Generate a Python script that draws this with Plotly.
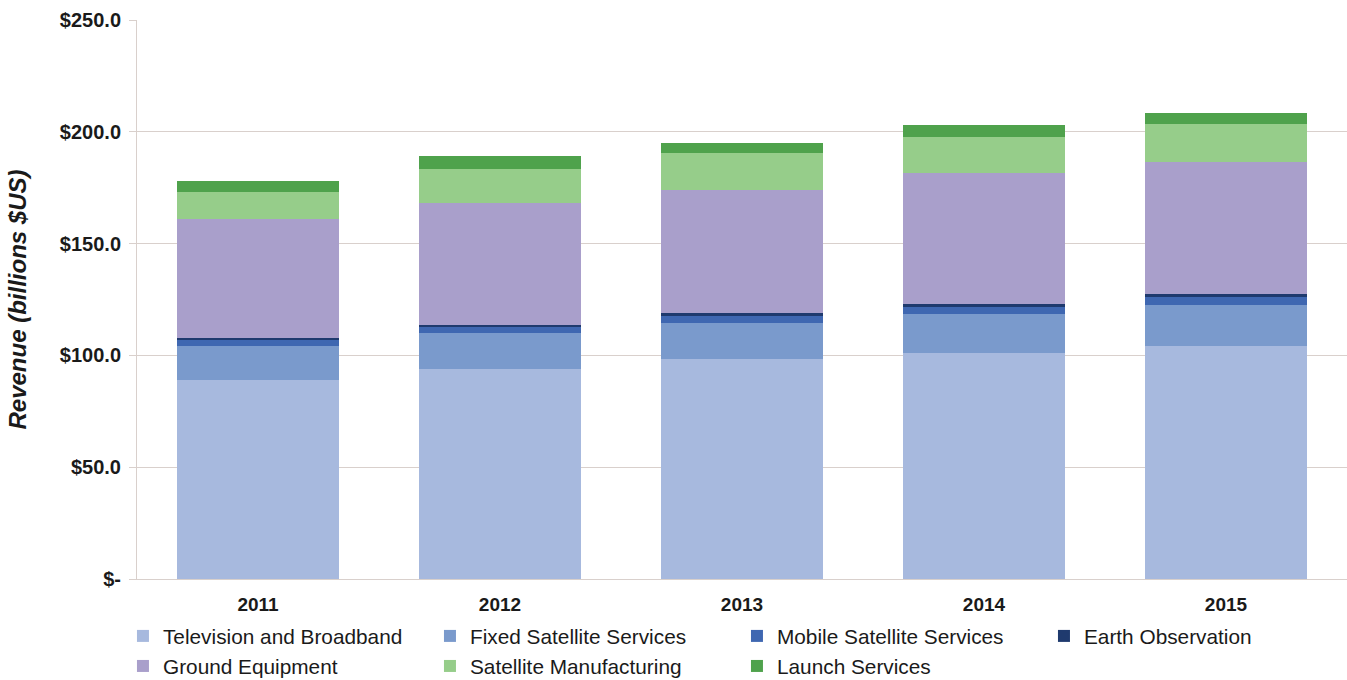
import plotly.graph_objects as go

years = ["2011", "2012", "2013", "2014", "2015"]

tv_broadband = [89.0, 93.8, 98.3, 101.2, 104.3]
fixed_sat = [15.2, 16.1, 16.3, 17.3, 18.2]
mobile_sat = [2.7, 2.7, 3.0, 3.3, 3.8]
earth_obs = [1.0, 1.0, 1.2, 1.1, 1.2]
ground_equip = [53.0, 54.4, 55.2, 58.5, 58.9]
sat_manuf = [12.2, 15.2, 16.4, 16.1, 17.0]
launch = [4.9, 6.0, 4.7, 5.5, 5.1]

series_names = ["Television and Broadband", "Fixed Satellite Services",
                "Mobile Satellite Services", "Earth Observation",
                "Ground Equipment", "Satellite Manufacturing", "Launch Services"]
series_values = [tv_broadband, fixed_sat, mobile_sat, earth_obs,
                 ground_equip, sat_manuf, launch]
series_colors = ["#A7B9DE", "#7A9ACC", "#3F67B1", "#1F3A6E",
                 "#A99FCB", "#96CD8A", "#4FA24C"]

y_tickvals = [0, 50, 100, 150, 200, 250]
y_ticktext = ["$-", "$50.0", "$100.0", "$150.0", "$200.0", "$250.0"]

fig = go.Figure()
for name, vals, col in zip(series_names, series_values, series_colors):
    fig.add_trace(go.Bar(x=years, y=vals, name=name,
                         marker=dict(color=col, line=dict(width=0))))

grid = "#D9D0CC"
fig.update_layout(
    barmode="stack",
    bargap=0.33,
    width=1347, height=680,
    margin=dict(l=137, r=0, t=20, b=101, autoexpand=False),
    paper_bgcolor="white", plot_bgcolor="white",
    font=dict(family="Liberation Sans, Arial, sans-serif", color="#222222"),
    xaxis=dict(
        showline=True, linecolor=grid, linewidth=1,
        ticks="", tickfont=dict(size=19, family="Liberation Sans, Arial, sans-serif", weight="bold", color="#1a1a1a"),
        ticklabelstandoff=8,
    ),
    yaxis=dict(
        range=[0, 250], tickvals=y_tickvals, ticktext=y_ticktext,
        showgrid=True, gridcolor=grid, gridwidth=1,
        showline=True, linecolor=grid, linewidth=1,
        ticks="outside", ticklen=7, tickcolor=grid,
        tickfont=dict(size=20, family="Liberation Sans, Arial, sans-serif", weight="bold", color="#1a1a1a"),
        ticklabelstandoff=4,
        zeroline=False,
        title=dict(text="<b><i>Revenue (billions $US)</i></b>",
                   font=dict(size=24, color="#1a1a1a"), standoff=26),
    ),
    legend=dict(
        orientation="h", xanchor="left", yanchor="top",
        x=-0.0116, y=-0.066,
        entrywidth=262, entrywidthmode="pixels",
        traceorder="normal",
        font=dict(size=20.8, color="#1a1a1a"),
        itemsizing="constant",
        tracegroupgap=0,
    ),
)

fig.write_html("out.html")
